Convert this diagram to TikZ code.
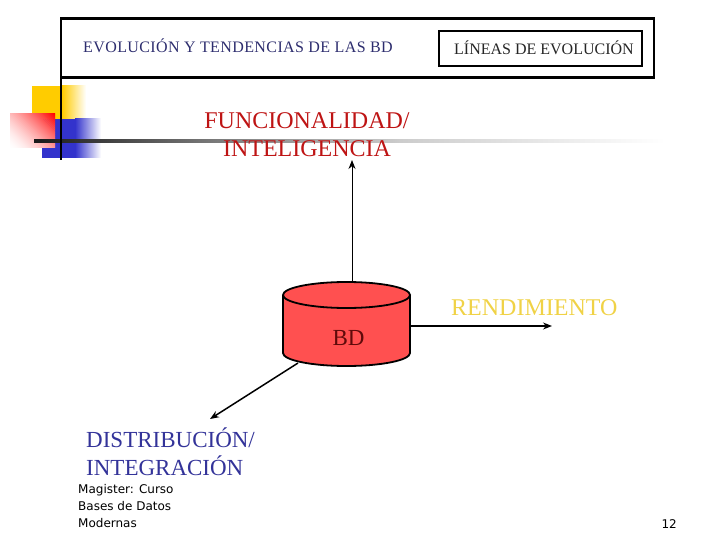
\documentclass[tikz,border=0pt]{standalone}
\usepackage{fontspec}
\setmainfont{Liberation Serif}
\newfontfamily\tahomaish{DejaVu Sans}
\newfontfamily\spaced[LetterSpace=2.5]{Liberation Serif}
\usetikzlibrary{arrows.meta}
\definecolor{dbred}{RGB}{255,80,80}
\definecolor{decoyellow}{RGB}{255,204,0}
\definecolor{decoblue}{RGB}{51,51,204}
\definecolor{navytext}{RGB}{45,45,110}
\definecolor{redtext}{RGB}{190,20,20}
\definecolor{yellowtext}{RGB}{240,210,70}
\definecolor{bluetext}{RGB}{51,51,153}
\definecolor{bdtext}{RGB}{95,10,10}
\tikzset{
  box/.style={draw=black,line width=2pt,fill=white,inner sep=0pt},
  title/.style={font=\fontsize{16}{18}\selectfont,text=black!85,inner sep=0,anchor=base west},
  big/.style={font=\fontsize{24}{28}\selectfont,inner sep=0,align=left},
  foot/.style={font=\tahomaish\fontsize{12}{17}\selectfont,inner sep=0,align=left,anchor=north west},
  conn/.style={draw=black,line width=1.2pt,-{Stealth[length=9pt,width=7pt]}},
  dbline/.style={draw=black,line width=1.8pt}
}
\begin{document}
\begin{tikzpicture}[x=1pt,y=-1pt]
\useasboundingbox (0,0) rectangle (720,540);
% decoration
\fill[decoyellow] (32,86) rectangle (62,119);
\shade[left color=decoyellow,right color=white] (62,86) rectangle (86,119);
\fill[decoblue] (42,119) rectangle (75,158);
\shade[left color=decoblue,right color=white] (75,119) rectangle (101,158);
\begin{scope}
\clip (10,114) rectangle (55,148);
\foreach \i in {0,...,40} {
  \pgfmathsetmacro{\pct}{100*(\i/40)^1.6}
  \pgfmathsetmacro{\s}{(\i-20)*1.4/sqrt(2)}
  \draw[red!\pct!white,line width=1.7pt]
    ({32.5+\s-40},{131-\s-40}) -- ({32.5+\s+40},{131-\s+40});
}
\end{scope}
\shade[left color=black!90,right color=black!55] (34,140) rectangle (200,143);
\shade[left color=black!55,right color=black!20] (199.5,140) rectangle (400,143);
\shade[left color=black!20,right color=white] (399.5,140) rectangle (665,143);
% frame
\draw[black,line width=2.2pt] (61,160) -- (61,18.5) -- (654,18.5) -- (654,77.5) -- (61,77.5);
\node[title,font=\spaced\fontsize{16}{18}\selectfont,text=navytext] (t1) at (83,53) {EVOLUCIÓN Y TENDENCIAS DE LAS BD};
\node[box,minimum width=203pt,minimum height=35pt] (t2box) at (540.5,48.5) {};
\node[title] (t2) at (454,54.5) {LÍNEAS DE EVOLUCIÓN};
% cylinder
\fill[dbred] (283,295) arc[start angle=180,end angle=360,x radius=63.5,y radius=13] -- (410,353) arc[start angle=0,end angle=180,x radius=63.5,y radius=13] -- cycle;
\draw[dbline] (283,295) arc[start angle=180,end angle=540,x radius=63.5,y radius=13];
\draw[dbline] (283,295) -- (283,353) arc[start angle=180,end angle=0,x radius=63.5,y radius=13] -- (410,295);
\node[font=\fontsize{23}{28}\selectfont,text=bdtext,inner sep=0] (bd) at (348.5,338) {BD};
\coordinate (dbtop) at (352,282);
\coordinate (dbright) at (410,326);
\coordinate (dbleft) at (298,363);
% labels
\node[big,align=center,anchor=north,text=redtext] (fn) at (307,112) {FUNCIONALIDAD/\\[0pt]INTELIGENCIA};
\coordinate (fnb) at (352,160);
\node[big,text=yellowtext,anchor=base west] (rd) at (451,315) {RENDIMIENTO};
\coordinate (rdb) at (552,326);
\node[big,font=\fontsize{23}{28}\selectfont,anchor=north west,text=bluetext] (di) at (86,428) {DISTRIBUCIÓN/\\[0pt]INTEGRACIÓN};
\coordinate (dit) at (210,419);
\draw[conn,line width=0.9pt] (dbtop) -- (fnb);
\draw[conn,line width=1.3pt] (dbright) -- (rdb);
\draw[conn,line width=1.5pt] (dbleft) -- (dit);
% footer
\node[foot] (f1) at (78,484) {Magister: Curso\\Bases de Datos\\Modernas};
\node[font=\tahomaish\fontsize{12}{14}\selectfont,inner sep=0,anchor=base east] (n) at (677,528) {12};
\end{tikzpicture}
\end{document}
